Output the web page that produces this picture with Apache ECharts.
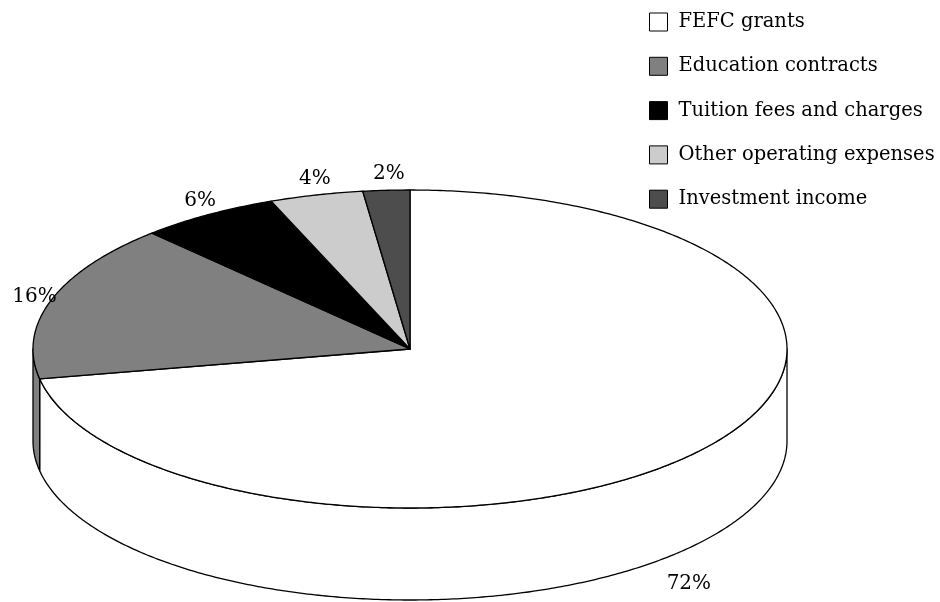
<!DOCTYPE html>
<html><head><meta charset="utf-8">
<script src="https://cdn.jsdelivr.net/npm/echarts@6/dist/echarts.min.js"></script>
<style>html,body{margin:0;padding:0;background:#fff}#c{width:940px;height:602px}</style>
</head><body><div id="c"></div><script>
// ---- data ----
const categories = ['FEFC grants', 'Education contracts', 'Tuition fees and charges', 'Other operating expenses', 'Investment income'];
const values = [72, 16, 6, 4, 2];
const colors = ['#ffffff', '#808080', '#000000', '#cccccc', '#4d4d4d'];

// ---- layout ----
const CX = 410, CY = 349, RX = 377, RY = 159, DEPTH = 92;
const FONT = '"DejaVu Serif", serif';
const total = values.reduce((a, b) => a + b, 0);

function pt(theta, dz) { return [CX + RX * Math.sin(theta), CY - RY * Math.cos(theta) + (dz || 0)]; }
function arc(a0, a1, dz) {
  const n = Math.max(2, Math.ceil(Math.abs(a1 - a0) / 0.01));
  const out = [];
  for (let k = 0; k <= n; k++) out.push(pt(a0 + (a1 - a0) * k / n, dz));
  return out;
}

function renderSlice(idx) {
  return function (params, api) {
    let cum = 0;
    for (let j = 0; j < idx; j++) cum += values[j];
    const v = api.value(0);
    const a0 = cum / total * 2 * Math.PI, a1 = (cum + v) / total * 2 * Math.PI;
    const children = [];
    const lo = Math.max(a0, Math.PI / 2), hi = Math.min(a1, 3 * Math.PI / 2);
    if (hi > lo) {
      const top = arc(lo, hi, 0), bot = arc(hi, lo, DEPTH);
      children.push({ type: 'polygon', shape: { points: top.concat(bot) },
        style: { fill: colors[idx], stroke: '#000', lineWidth: 1.3, lineJoin: 'round' }, z2: 1 });
    }
    children.push({ type: 'polygon', shape: { points: [[CX, CY]].concat(arc(a0, a1, 0)) },
      style: { fill: colors[idx], stroke: '#000', lineWidth: 1.3, lineJoin: 'round' }, z2: 5 });
    const m = (a0 + a1) / 2, s = Math.sin(m), c = Math.cos(m);
    let lx, ly;
    if (c < 0) { lx = CX + RX * 0.96 * s; ly = CY + DEPTH - (RY + 65) * c; }
    else { lx = CX + (RX + 22) * s + 4; ly = CY - (RY + 20) * c + 3; }
    children.push({ type: 'text', z2: 10,
      style: { text: Math.round(v / total * 100) + '%', x: lx, y: ly, align: 'center', verticalAlign: 'middle',
        font: '20px ' + FONT, fill: '#000' } });
    return { type: 'group', children };
  };
}

const series = categories.map((name, i) => ({
  type: 'custom', name, coordinateSystem: 'none',
  data: [[values[i]]],
  itemStyle: { color: colors[i], borderColor: '#000', borderWidth: 1 },
  renderItem: renderSlice(i), silent: true
}));

const chart = echarts.init(document.getElementById('c'), null, { renderer: 'canvas' });
chart.setOption({
  animation: false,
  backgroundColor: '#fff',
  legend: {
    orient: 'vertical', left: 649, top: 12, padding: 0, itemWidth: 18, itemHeight: 18, itemGap: 24.3,
    icon: 'rect', selectedMode: false,
    data: categories,
    itemStyle: { borderColor: '#000', borderWidth: 1 },
    textStyle: { fontFamily: FONT, fontSize: 19.5, color: '#000', padding: [0, 0, 0, 6] }
  },
  series
});
</script></body></html>
